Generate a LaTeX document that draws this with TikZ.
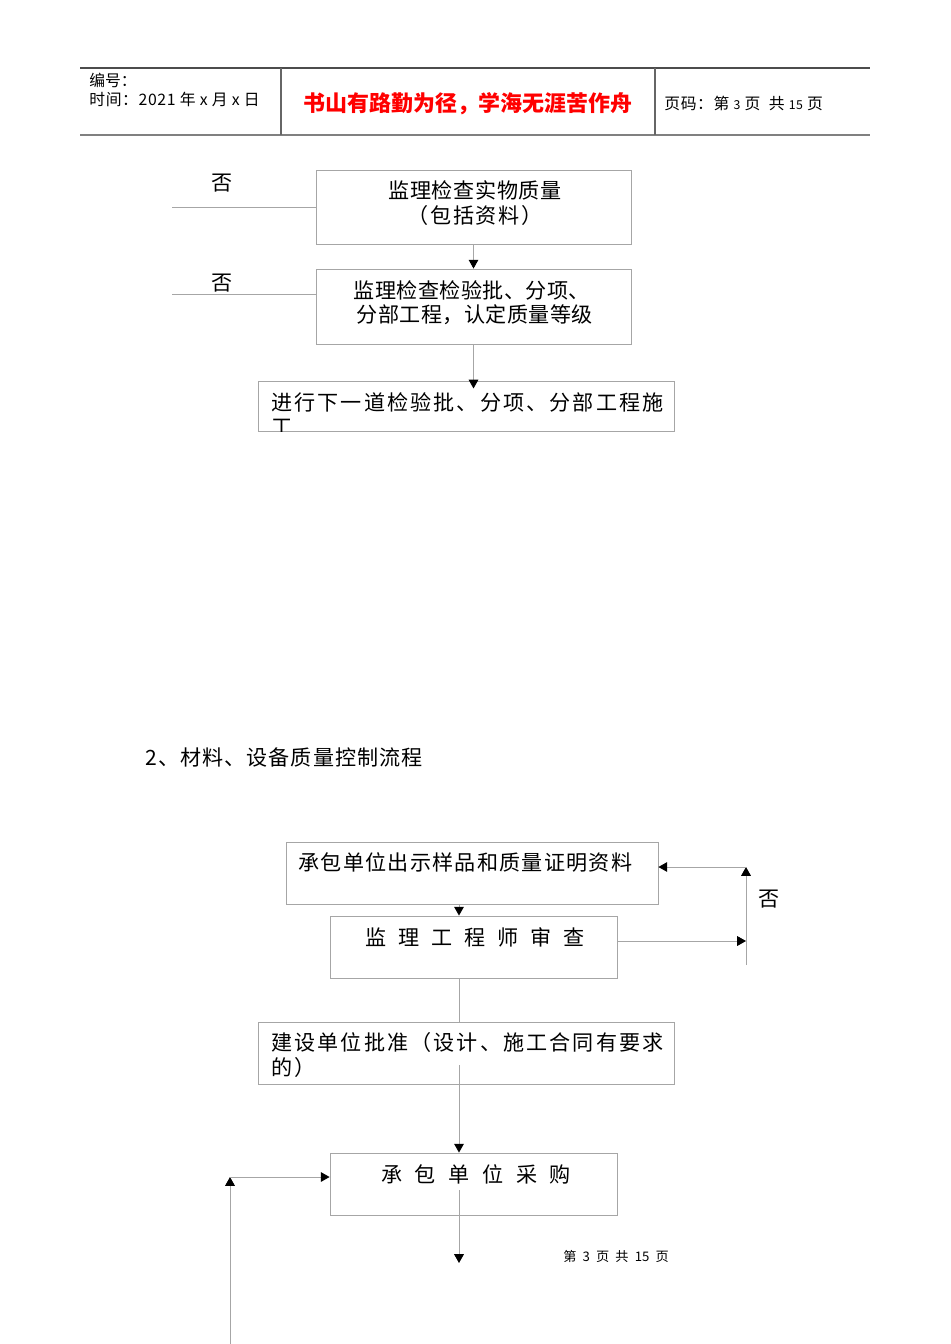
\documentclass[tikz,border=0pt]{standalone}
\usepackage{fontspec}
\setmainfont{Noto Sans CJK SC}
\usetikzlibrary{arrows.meta}

\begin{document}
\begin{tikzpicture}[x=0.02cm, y=-0.02cm,
  every node/.style={inner sep=0pt, font=\fontsize{12}{14}\selectfont},
  box/.style={draw=black!35, line width=0.5pt, minimum width=#1, minimum height=1.24cm},
  ln/.style={draw=black!35, line width=0.5pt},
  arr/.style={ln, -{Triangle[color=black, length=5pt, width=5.5pt]}},
  hd/.style={font=\fontsize{9}{10}\selectfont}]
  \useasboundingbox (0,0) rectangle (950,1344);
  % page header
  \draw[black!70, line width=0.6pt] (80,68) -- (870,68);
  \draw[black!50, line width=1.2pt] (80,135) -- (870,135);
  \draw[black!60, line width=0.6pt] (281,68) -- (281,135);
  \draw[black!60, line width=0.6pt] (655,68) -- (655,135);
  \node[hd, anchor=west] (hnum) at (89,80) {编号：};
  \node[hd, anchor=west, font=\fontsize{9}{10}\selectfont\addfontfeature{LetterSpace=4}] (hdate) at (89,99) {时间：2021 年 x 月 x 日};
  \node[text=red, font=\fontsize{12.5}{14}\bfseries] (motto) at (468,104) {书山有路勤为径，学海无涯苦作舟};
  \node[hd, anchor=west, font=\fontsize{9}{10}\selectfont\addfontfeature{LetterSpace=4}] (hpage) at (664,103) {页码：第 {\fontsize{7}{8}\selectfont 3} 页\ \ 共 {\fontsize{7}{8}\selectfont 15} 页};

  % first flow (continued)
  \node[box=6.3cm, minimum height=1.48cm] (chk1) at (473.5,207) {};
  \node[box=6.3cm, minimum height=1.5cm] (chk2) at (473.5,306.5) {};
  \node[box=8.32cm, minimum height=1.0cm] (next) at (466,406) {};
  \node[font=\fontsize{12}{14}\selectfont\addfontfeature{LetterSpace=3}] (t1a) at (475,190) {监理检查实物质量};
  \node[font=\fontsize{12}{14}\selectfont\addfontfeature{LetterSpace=8}] (t1b) at (475,215) {（包括资料）};
  \node[font=\fontsize{12}{14}\selectfont\addfontfeature{LetterSpace=2}] (t2a) at (472,290) {监理检查检验批、分项、};
  \node[font=\fontsize{12}{14}\selectfont\addfontfeature{LetterSpace=2}] (t2b) at (475,315) {分部工程，认定质量等级};
  \begin{scope}
    \clip (next.south west) rectangle (next.north east);
    \node[anchor=west, font=\fontsize{12}{14}\selectfont\addfontfeature{LetterSpace=10}] (t3a) at (271,402) {进行下一道检验批、分项、分部工程施};
    \node[anchor=west, font=\fontsize{12}{14}\selectfont] (t3b) at (271,427) {工};
  \end{scope}
  \coordinate (no1) at (172,207);
  \coordinate (no2) at (172,294);
  \draw[ln] (no1) -- (chk1.west);
  \draw[ln] (no2) -- (no2 -| chk2.west);
  \node (n1) at (222,183) {否};
  \node (n2) at (222,283) {否};
  \draw[arr] (chk1.south) -- (chk2.north);
  \draw[arr, shorten >=-4.5pt] (chk2.south) -- (next.north -| chk2.south);

  % section 2
  \node[anchor=west, font=\fontsize{12}{14}\selectfont\addfontfeature{LetterSpace=5}] (sec) at (145,757) {2、材料、设备质量控制流程};
  \node[box=7.44cm] (show) at (472,873) {};
  \node[box=5.74cm] (rev) at (473.5,947) {};
  \node[box=8.32cm] (own) at (466,1053) {};
  \node[box=5.74cm] (buy) at (473.5,1184) {};
  \node[anchor=west, font=\fontsize{12}{14}\selectfont\addfontfeature{LetterSpace=6}] (t4) at (298,862) {承包单位出示样品和质量证明资料};
  \node[font=\fontsize{12}{14}\selectfont\addfontfeature{LetterSpace=56}] (t5) at (475,937) {监理工程师审查};
  \node[anchor=west, font=\fontsize{12}{14}\selectfont\addfontfeature{LetterSpace=10}] (t6a) at (271,1042) {建设单位批准（设计、施工合同有要求};
  \node[anchor=west, font=\fontsize{12}{14}\selectfont\addfontfeature{LetterSpace=10}] (t6b) at (271,1067) {的）};
  \node[font=\fontsize{12}{14}\selectfont\addfontfeature{LetterSpace=60}] (t7) at (476,1174) {承包单位采购};
  \node (n3) at (769,899) {否};

  \coordinate (spine) at (459,0);
  \draw[arr] (show.south -| spine) -- (rev.north -| spine);
  \draw[ln] (rev.south -| spine) -- (own.north -| spine);
  \coordinate (m6) at (459,1065);
  \draw[arr] (m6) -- (buy.north -| spine);
  \coordinate (m7) at (459,1190);
  \coordinate (e7) at (459,1263);
  \draw[arr] (m7) -- (e7);
  % reject loop
  \coordinate (r1) at (746,941);
  \coordinate (r2) at (746,965);
  \coordinate (r3) at (746,867);
  \draw[arr] (rev.east |- r1) -- (r1);
  \draw[arr] (r2) -- (r3);
  \draw[arr] (r3) -- (r3 -| show.east);
  % return loop
  \coordinate (l1) at (230,1344);
  \coordinate (l2) at (230,1177);
  \draw[arr] (l1) -- (l2);
  \draw[arr] (l2) -- (l2 -| buy.west);

  \node[anchor=west, font=\fontsize{7.5}{9}\selectfont] (foot) at (563,1256) {第\hspace{3.5pt}3\hspace{3.5pt}页\hspace{3.5pt}共\hspace{3.5pt}15\hspace{3.5pt}页};
\end{tikzpicture}
\end{document}
